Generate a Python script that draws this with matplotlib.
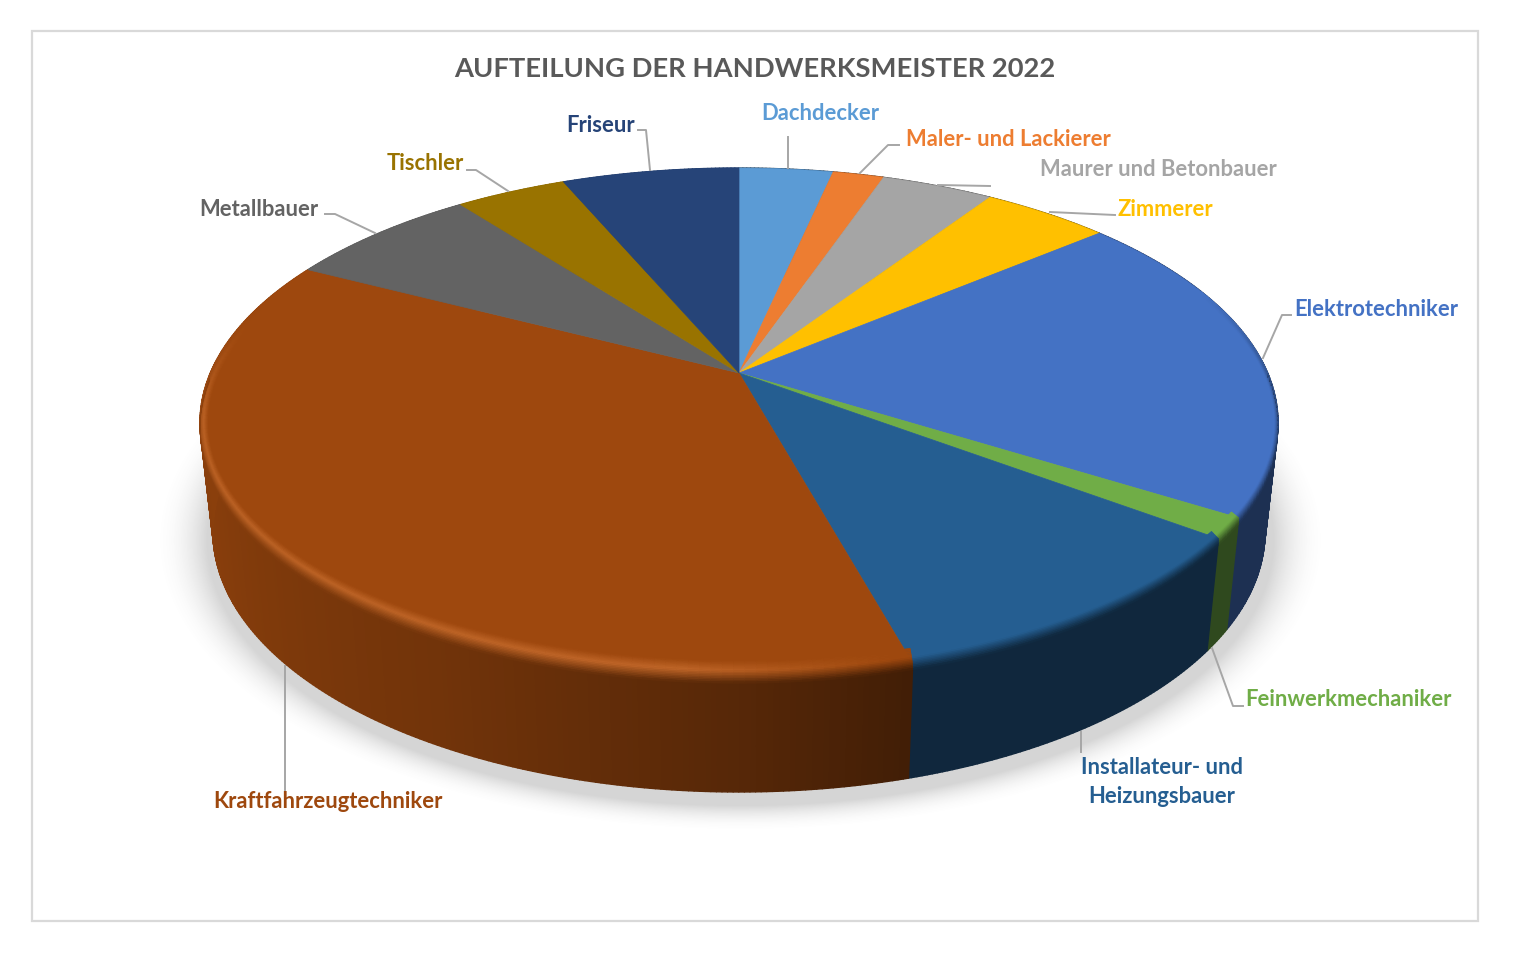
import numpy as np
import matplotlib
matplotlib.use("Agg")
import matplotlib.pyplot as plt
from matplotlib.collections import PolyCollection
from matplotlib.colors import to_rgb
from matplotlib.patches import Polygon, Rectangle

plt.rcParams['font.family'] = ['Lato', 'DejaVu Sans']

# shares in percent, clockwise from 12 o'clock
trades = ["Dachdecker", "Maler- und Lackierer", "Maurer und Betonbauer", "Zimmerer",
          "Elektrotechniker", "Feinwerkmechaniker", "Installateur- und\nHeizungsbauer",
          "Kraftfahrzeugtechniker", "Metallbauer", "Tischler", "Friseur"]
shares = [3.4, 1.85, 4.05, 4.6, 20.0, 1.3, 10.5, 36.9, 7.0, 4.0, 6.4]
colors = ["#5B9BD5", "#ED7D31", "#A5A5A5", "#FFC000", "#4472C4", "#70AD47",
          "#255E91", "#9E480E", "#636363", "#997300", "#264478"]

# label anchor (left x, centre y) and leader line, in pixels of the figure
label_pos = [(761, 114), (906, 140), (1040, 169), (1118, 209), (1294, 310), (1245, 700),
             (1162, 782), (213, 802), (199, 209), (387, 164), (566, 126)]
leaders = [[(788, 168), (788, 137)],
           [(860, 173), (888, 145), (899, 145)],
           [(938, 185), (990, 186)],
           [(1050, 212), (1115, 215)],
           [(1263, 358), (1282, 315), (1291, 315)],
           [(1212, 648), (1233, 706), (1243, 706)],
           [(1081, 732), (1081, 752)],
           [(285, 666), (285, 795)],
           [(375, 233), (335, 214), (325, 214)],
           [(508, 191), (476, 170), (467, 170)],
           [(650, 170), (646, 130), (638, 130)]]

CX, APEX_Y = 739, 373
PERSP, PY, DX = 0.1945, -172.3, 528.7
ELL_Y = 422.5


def project(theta):
    """Perspective view of the unit circle, theta in degrees clockwise from top."""
    t = np.radians(theta)
    u, v = np.sin(t), np.cos(t)
    w = 1 + PERSP * v
    return CX + DX * u / w, (APEX_Y + PY * v) / w, v


def lower(x, y, v):
    # matching point on the bottom rim of the disc
    return CX + (x - CX) * 526 / 539, y + 108 + 7 * np.maximum(0, -v)


def wall_shade(theta):
    return np.interp(theta, [90, 165, 180, 208, 245, 270, 300],
                     [0.42, 0.42, 0.55, 0.72, 0.85, 0.88, 0.9])


fig = plt.figure(figsize=(15.2, 9.73), dpi=100)
ax = fig.add_axes([0, 0, 1, 1])

ax.add_patch(Rectangle((32, 31), 1446, 890, fill=False, edgecolor="#D9D9D9", linewidth=1.6, zorder=1))

# soft shadow under the disc
yy, xx = np.mgrid[0:973, 0:1520]
dist = np.sqrt(((xx - 740) / 533) ** 2 + ((yy - 540) / 265) ** 2)
fade = np.clip((1.10 - dist) / 0.10, 0, 1) ** 2
shadow = np.zeros((973, 1520, 4))
shadow[..., :3] = 0.45
shadow[..., 3] = 0.30 * fade
ax.imshow(shadow, extent=(0, 1520, 973, 0), aspect="auto", zorder=2, interpolation="bilinear")

edges = np.concatenate([[0], np.cumsum(shares)]) / np.sum(shares) * 360

# side wall, small shaded strips
quads, quad_colors = [], []
for start, end, col in zip(edges[:-1], edges[1:], colors):
    base = np.array(to_rgb(col))
    th = np.arange(start, end + 0.5, 0.5)
    th[-1] = end
    x, y, v = project(th)
    xb, yb = lower(x, y, v)
    for i in range(len(th) - 1):
        quads.append([(x[i], y[i]), (x[i + 1], y[i + 1]), (xb[i + 1], yb[i + 1]), (xb[i], yb[i])])
        quad_colors.append(base * wall_shade(th[i]))
ax.add_collection(PolyCollection(quads, facecolors=quad_colors, edgecolors=quad_colors,
                                 linewidths=1.0, zorder=3))

# top face
for start, end, col in zip(edges[:-1], edges[1:], colors):
    th = np.linspace(start, end, max(3, int(end - start) * 2))
    x, y, v = project(th)
    pts = [(CX, APEX_Y)] + list(zip(x, y))
    ax.add_patch(Polygon(pts, closed=True, facecolor=col, edgecolor=col, linewidth=0.5, zorder=4))


def ring(xk, yk, s):
    # s runs 0..1 from inside the top face to the rim, above 1 only moves down the wall
    inner = min(s, 1)
    px = CX + (xk - CX) * (1 - (1 - inner) * 8 / 539)
    py = ELL_Y + (yk - ELL_Y) * (1 - (1 - inner) * 16 / 254)
    return px, py + max(s - 1, 0) * 16


# soft rim between top face and wall, with the highlight on the left front
steps = np.linspace(0, 1.4, 15)
band, band_colors = [], []
for start, end, col in zip(edges[:-1], edges[1:], colors):
    base = np.array(to_rgb(col))
    th = np.arange(start, end + 1, 1.0)
    th[-1] = end
    x, y, v = project(th)
    for i in range(len(th) - 1):
        mid = (th[i] + th[i + 1]) / 2
        strength = np.clip((-np.cos(np.radians(mid)) + 0.35) / 0.35, 0, 1)
        if strength <= 0:
            continue
        glow = np.interp(mid, [166, 185, 260, 285], [0.0, 0.35, 0.3, 0.0])
        light = base + (np.array([1.0, 0.62, 0.35]) - base) * glow
        dark = base * wall_shade(mid)
        for a, b in zip(steps[:-1], steps[1:]):
            mid_s = (a + b) / 2
            if mid_s < 0.6:
                c = base + (light - base) * (mid_s / 0.6)
            else:
                c = light + (dark - light) * min((mid_s - 0.6) / 0.8, 1)
            c = base + (c - base) * strength if mid_s < 1 else c
            if mid_s >= 1 and strength < 1:
                continue
            band.append([ring(x[i], y[i], a), ring(x[i + 1], y[i + 1], a),
                         ring(x[i + 1], y[i + 1], b), ring(x[i], y[i], b)])
            band_colors.append(np.clip(c, 0, 1))
ax.add_collection(PolyCollection(band, facecolors=band_colors, edgecolors=band_colors,
                                 linewidths=0.4, zorder=5))

# leaders and labels
for line in leaders:
    xs, ys = zip(*line)
    ax.plot(xs, ys, color="#A6A6A6", linewidth=1.4, zorder=6, solid_joinstyle="round")
for name, (lx, ly), col in zip(trades, label_pos, colors):
    if "\n" in name:
        ax.text(lx, ly, name, color=col, fontsize=15.8, fontweight="bold", ha="center",
                va="center", linespacing=1.45, zorder=7)
    else:
        ax.text(lx, ly, name, color=col, fontsize=15.8, fontweight="bold", ha="left",
                va="center", zorder=7)

ax.text(755, 69, "AUFTEILUNG DER HANDWERKSMEISTER 2022", color="#595959", fontsize=19.7,
        fontweight="bold", ha="center", va="center", zorder=7)

ax.set_xlim(0, 1520)
ax.set_ylim(973, 0)
ax.axis("off")
fig.savefig("out.png", dpi=100, facecolor="white")
